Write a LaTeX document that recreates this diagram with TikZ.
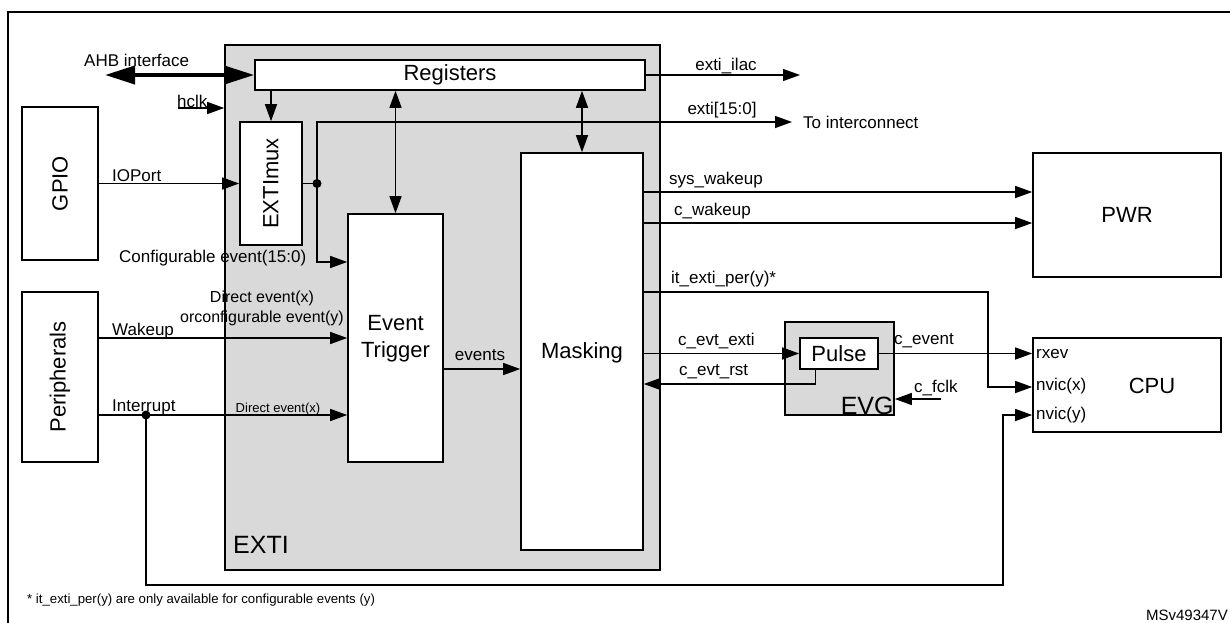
\documentclass[tikz,border=0pt]{standalone}
\usepackage{fontspec}
\setmainfont{Liberation Sans}
\usetikzlibrary{arrows.meta,calc}
\definecolor{extigray}{RGB}{217,217,217}
\begin{document}
\begin{tikzpicture}[x=1pt,y=-1pt,
  box/.style={draw,line width=1.6,fill=white,inner sep=0},
  lbl/.style={font=\fontsize{17}{20}\selectfont,inner sep=0},
  sml/.style={font=\fontsize{13}{16}\selectfont,inner sep=0},
  big/.style={font=\fontsize{22}{27}\selectfont,align=center},
  wire/.style={line width=1.4},
  arr/.style={wire,-{Triangle[length=17pt,width=12pt]}},
  darr/.style={wire,{Triangle[length=17pt,width=12pt]}-{Triangle[length=17pt,width=12pt]}}]
\useasboundingbox (0,0) rectangle (1230,623);
% frame
\draw[line width=2] (8,623) -- (8,12) -- (1230,12);
% blocks
\node[box,fill=extigray,minimum width=435,minimum height=525] (exti) at (442.5,307.5) {};
\node[box,minimum width=390,minimum height=30,big] (reg) at (450,75) {Registers};
\node[box,minimum width=76,minimum height=153] (gpio) at (60,183.5) {};
\node[big,rotate=90] at (gpio) {GPIO};
\node[box,minimum width=76,minimum height=170] (periph) at (60,377) {};
\node[big,rotate=90] at (periph) {Peripherals};
\node[box,minimum width=62,minimum height=123] (mux) at (271,183.5) {};
\node[big,rotate=90] at (mux) {EXTImux};
\node[box,minimum width=95,minimum height=248] (trig) at (395.5,338) {};
\node[big] at (395.5,339) {Event\\Trigger};
\node[box,minimum width=122,minimum height=397] (mask) at (582,351.5) {};
\node[big] at (582,353) {Masking};
\node[box,minimum width=188,minimum height=124] (pwr) at (1127,215) {};
\node[big] at (pwr) {PWR};
\node[box,minimum width=188,minimum height=94] (cpu) at (1127,385) {};
\node[big] at (1152,386) {CPU};
\node[box,fill=extigray,minimum width=109,minimum height=93] (evg) at (839.5,368.5) {};
\node[box,minimum width=78,minimum height=31,big] (pulse) at (839,353.5) {Pulse};
\node[font=\fontsize{25}{30}\selectfont,anchor=south east,inner sep=1] at (evg.south east) {EVG};
\node[font=\fontsize{25}{30}\selectfont,anchor=west,inner sep=0] at (233,545) {EXTI};
% coordinates
\coordinate (ahbL) at (105,75);
\coordinate (hclkS) at (178,108);
\coordinate (dot) at (317,183.5);
\coordinate (extiOut) at (792,122);
\coordinate (yCfg) at (0,262);
\coordinate (ilac) at (800,75);
\coordinate (yW) at (0,338);
\coordinate (yI) at (0,415);
\coordinate (idot) at (146,415);
\coordinate (loopc) at (1003,585);
\coordinate (yEv) at (0,369);
\coordinate (ySys) at (0,192);
\coordinate (yCw) at (0,223);
\coordinate (itc) at (988,292);
\coordinate (yNx) at (0,387);
\coordinate (yRst) at (0,384);
\coordinate (fclk) at (941,399);
% connectors
\draw[line width=4,line cap=round,{Triangle[length=30pt,width=18pt]}-{Triangle[length=30pt,width=18pt]}] (ahbL) -- (reg.west);
\draw[arr] (hclkS) -- (hclkS -| exti.west);
\draw[arr] (mux.north |- reg.south) -- (mux.north);
\draw[arr] (gpio.east) -- (mux.west);
\draw[wire] (mux.east) -- (dot);
\fill (dot) circle (4.5);
\draw[arr] (dot) |- (extiOut);
\draw[arr] (dot) |- (trig.west |- yCfg);
\draw[darr] (trig.north |- reg.south) -- (trig.north);
\draw[darr] (mask.north |- reg.south) -- (mask.north);
\draw[arr] (reg.east) -- (ilac);
\draw[arr] (periph.east |- yW) -- (trig.west |- yW);
\draw[arr] (periph.east |- yI) -- (trig.west |- yI);
\fill (idot) circle (4.5);
\draw[arr] (idot) -- (idot |- loopc) -- (loopc) |- (cpu.west |- yI);
\draw[arr] (trig.east |- yEv) -- (mask.west |- yEv);
\draw[arr] (mask.east |- ySys) -- (pwr.west |- ySys);
\draw[arr] (mask.east |- yCw) -- (pwr.west |- yCw);
\draw[arr] (mask.east |- itc) -- (itc) |- (cpu.west |- yNx);
\draw[arr] (mask.east |- pulse.west) -- (pulse.west);
\draw[arr] ([xshift=16]pulse.south west) |- (mask.east |- yRst);
\draw[arr] (pulse.east) -- (cpu.west |- pulse.east);
\draw[arr] (fclk) -- (evg.east |- fclk);
% labels
\node[lbl,anchor=west] at (84,60) {AHB interface};
\node[lbl,anchor=west] at (177,101) {hclk};
\node[lbl,anchor=west] at (112,176) {IOPort};
\node[lbl,anchor=west] at (119,258) {Configurable event(15:0)};
\node[lbl,font=\fontsize{16}{19}\selectfont] at (262,298) {Direct event(x)};
\node[lbl,font=\fontsize{16}{19}\selectfont] at (262,318) {orconfigurable event(y)};
\node[lbl,anchor=west] at (112,331) {Wakeup};
\node[lbl,anchor=west] at (112,407) {Interrupt};
\node[sml] at (278,409) {Direct event(x)};
\node[lbl] at (480,355) {events};
\node[lbl] at (726,66) {exti\_ilac};
\node[lbl] at (722,110) {exti[15:0]};
\node[lbl,anchor=west] at (803,122) {To interconnect};
\node[lbl,anchor=west] at (669,180) {sys\_wakeup};
\node[lbl,anchor=west] at (674,211) {c\_wakeup};
\node[lbl,anchor=west] at (671,279) {it\_exti\_per(y)*};
\node[lbl,anchor=west] at (678,341) {c\_evt\_exti};
\node[lbl,anchor=west] at (679,372) {c\_evt\_rst};
\node[lbl,anchor=west] at (894,341) {c\_event};
\node[lbl,anchor=west] at (914,388) {c\_fclk};
\node[lbl,anchor=west] at (1036,354) {rxev};
\node[lbl,anchor=west] at (1036,386) {nvic(x)};
\node[lbl,anchor=west] at (1036,415) {nvic(y)};
\node[inner sep=0,anchor=west,font=\fontsize{13.2}{16}\selectfont] at (27,600) {* it\_exti\_per(y) are only available for configurable events (y)};
\node[inner sep=0,anchor=east,font=\fontsize{15}{18}\selectfont] at (1228,615) {MSv49347V};
\end{tikzpicture}
\end{document}
